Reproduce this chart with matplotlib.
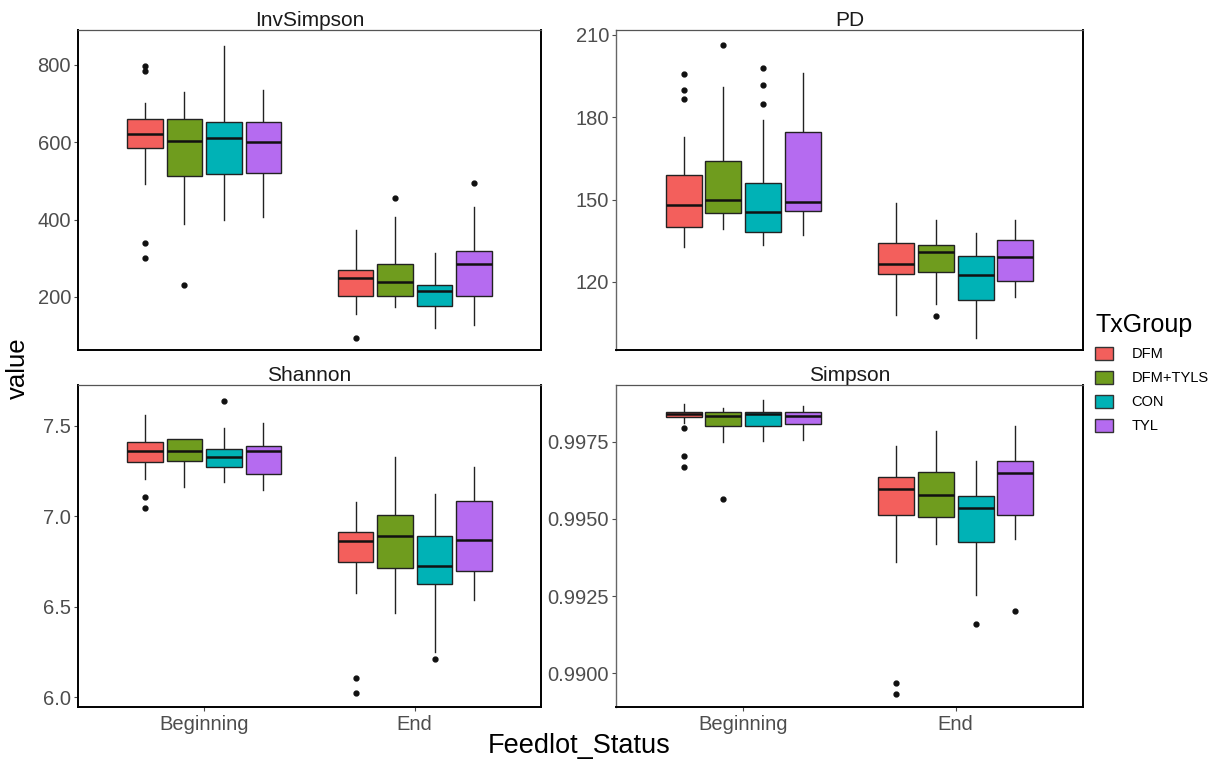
import matplotlib
matplotlib.use("Agg")
import matplotlib.pyplot as plt
from matplotlib.patches import Patch
from matplotlib.ticker import FixedLocator, FormatStrFormatter

plt.rcParams['font.family'] = ['Liberation Sans', 'DejaVu Sans']

statuses = ["Beginning", "End"]
groups = ["DFM", "DFM+TYLS", "CON", "TYL"]
colors = ["#F35F5C", "#6F9C1E", "#00B2B6", "#B56BF0"]

# order of each list: Beginning DFM, DFM+TYLS, CON, TYL, then End DFM, DFM+TYLS, CON, TYL
inv_whislo = [493, 389, 398, 406, 157, 173, 120, 127]
inv_q1     = [585, 512, 518, 521, 202, 202, 177, 202]
inv_med    = [621, 604, 611, 600, 250, 240, 216, 284]
inv_q3     = [659, 659, 653, 653, 271, 286, 232, 319]
inv_whishi = [701, 729, 849, 735, 374, 408, 314, 432]
inv_fliers = [[797, 784, 339, 301], [230], [], [], [95], [456], [], [494]]

pd_whislo = [132.7, 139.3, 133.4, 137.1, 108.1, 112.1, 99.6, 114.4]
pd_q1     = [140.0, 145.0, 138.1, 145.7, 123.0, 123.8, 113.5, 120.2]
pd_med    = [147.9, 150.0, 145.4, 149.3, 126.7, 130.8, 122.5, 129.0]
pd_q3     = [158.9, 163.9, 156.2, 174.8, 134.2, 133.6, 129.3, 135.2]
pd_whishi = [172.8, 190.9, 178.9, 196.2, 148.8, 142.7, 137.8, 142.5]
pd_fliers = [[195.9, 190.1, 186.8], [206.5], [198.0, 191.6, 185.0], [], [], [107.5], [], []]

sh_whislo = [7.206, 7.160, 7.188, 7.142, 6.577, 6.467, 6.250, 6.535]
sh_q1     = [7.298, 7.307, 7.274, 7.233, 6.744, 6.711, 6.627, 6.695]
sh_med    = [7.362, 7.362, 7.325, 7.358, 6.860, 6.893, 6.724, 6.869]
sh_q3     = [7.412, 7.426, 7.371, 7.390, 6.912, 7.006, 6.893, 7.086]
sh_whishi = [7.559, 7.426, 7.487, 7.513, 7.077, 7.329, 7.123, 7.270]
sh_fliers = [[7.105, 7.044], [], [7.638], [], [6.103, 6.020], [], [6.213], []]

si_whislo = [0.998115, 0.997471, 0.997525, 0.997546, 0.993603, 0.994194, 0.992529, 0.994355]
si_q1     = [0.998298, 0.998008, 0.998008, 0.998083, 0.995107, 0.995054, 0.994248, 0.995107]
si_med    = [0.998406, 0.998330, 0.998406, 0.998330, 0.995978, 0.995784, 0.995365, 0.996472]
si_q3     = [0.998459, 0.998459, 0.998459, 0.998459, 0.996364, 0.996525, 0.995731, 0.996880]
si_whishi = [0.998706, 0.998599, 0.998835, 0.998653, 0.997363, 0.997847, 0.996880, 0.998008]
si_fliers = [[0.997933, 0.997041, 0.996665], [0.995645], [], [], [0.989682, 0.989338], [], [0.991584], [0.992024]]

panels = [
    ("InvSimpson", (inv_whislo, inv_q1, inv_med, inv_q3, inv_whishi, inv_fliers), (63, 890), [200, 400, 600, 800], "%d"),
    ("PD", (pd_whislo, pd_q1, pd_med, pd_q3, pd_whishi, pd_fliers), (95.2, 211.8), [120, 150, 180, 210], "%d"),
    ("Shannon", (sh_whislo, sh_q1, sh_med, sh_q3, sh_whishi, sh_fliers), (5.945, 7.725), [6.0, 6.5, 7.0, 7.5], "%.1f"),
    ("Simpson", (si_whislo, si_q1, si_med, si_q3, si_whishi, si_fliers), (0.98891, 0.99933), [0.9900, 0.9925, 0.9950, 0.9975], "%.4f"),
]

W, H = 1229, 763
fig = plt.figure(figsize=(W / 100, H / 100), dpi=100)

rects_px = [(78, 30, 541, 350), (616, 30, 1083, 350), (78, 385, 541, 707), (616, 385, 1083, 707)]

offsets = [-0.281, -0.094, 0.094, 0.281]
box_w = 0.17

for i, (name, stats, ylim, yticks, fmt) in enumerate(panels):
    x0, y0, x1, y1 = rects_px[i]
    ax = fig.add_axes([x0 / W, 1 - y1 / H, (x1 - x0) / W, (y1 - y0) / H])
    whislo, q1, med, q3, whishi, fliers = stats
    bstats = []
    positions = []
    for s in range(len(statuses)):
        for g in range(len(groups)):
            k = s * len(groups) + g
            bstats.append(dict(whislo=whislo[k], q1=q1[k], med=med[k], q3=q3[k],
                               whishi=whishi[k], fliers=fliers[k]))
            positions.append(s + 1 + offsets[g])
    bp = ax.bxp(bstats, positions=positions, widths=box_w, patch_artist=True,
                showcaps=False,
                boxprops=dict(edgecolor="#222222", linewidth=1.0),
                whiskerprops=dict(color="#222222", linewidth=1.0),
                medianprops=dict(color="#111111", linewidth=1.8),
                flierprops=dict(marker="o", markerfacecolor="#111111", markeredgecolor="#111111",
                                markersize=3.5, linestyle="none"))
    for k, patch in enumerate(bp["boxes"]):
        patch.set_facecolor(colors[k % len(groups)])
        patch.set_zorder(3)
    for line in bp["medians"]:
        line.set_zorder(4)
    ax.set_xlim(0.4, 2.6)
    ax.set_ylim(*ylim)
    ax.yaxis.set_major_locator(FixedLocator(yticks))
    ax.yaxis.set_major_formatter(FormatStrFormatter(fmt))
    ax.set_xticks([1, 2])
    ax.tick_params(axis="y", labelsize=14.5, colors="#4D4D4D", length=3, width=0.8, pad=2)
    ax.tick_params(axis="x", labelsize=14.5, colors="#4D4D4D", length=3, width=0.8, pad=3)
    if i >= 2:
        ax.set_xticklabels(statuses)
    else:
        ax.set_xticklabels([])
        ax.tick_params(axis="x", length=0)
    for sp in ["left", "bottom", "right"]:
        ax.spines[sp].set_color("black")
        ax.spines[sp].set_linewidth(1.4)
    if i % 2 == 1:
        ax.spines["left"].set_color("#666666")
        ax.spines["left"].set_linewidth(1.0)
    ax.spines["top"].set_color("#555555")
    ax.spines["top"].set_linewidth(0.9)
    ax.set_title(name, fontsize=15, color="#1A1A1A", pad=3)

fig.text(18 / W, 1 - 368 / H, "value", fontsize=18.5, rotation=90, ha="center", va="center")
fig.text(579 / W, 1 - 746 / H, "Feedlot_Status", fontsize=19.5, ha="center", va="center")

handles = [Patch(facecolor=c, edgecolor="#333333", linewidth=1.0) for c in colors]
leg = fig.legend(handles, groups, loc="upper left", bbox_to_anchor=(1082 / W, 1 - 300 / H),
                 frameon=False, title="TxGroup", fontsize=10.5, title_fontsize=18,
                 handlelength=1.2, handleheight=1.0, handletextpad=1.3, labelspacing=0.65)
leg._legend_box.align = "left"

fig.savefig("out.png", dpi=100)
